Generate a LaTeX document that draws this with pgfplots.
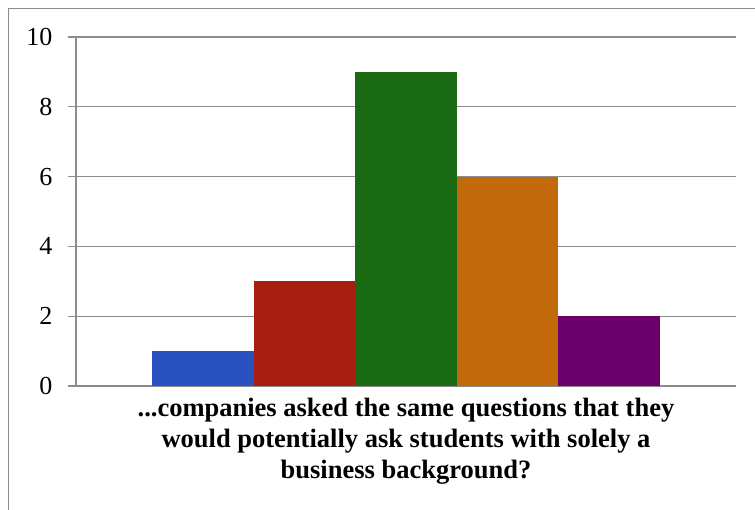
\documentclass[border=0pt]{standalone}
\usepackage{pgfplots}
\pgfplotsset{compat=1.18}
\usepackage{fontspec}
\setmainfont{Liberation Serif}
\definecolor{gridc}{RGB}{140,140,140}
\definecolor{cblue}{RGB}{41,82,192}
\definecolor{cred}{RGB}{168,31,18}
\definecolor{cgreen}{RGB}{26,106,20}
\definecolor{corange}{RGB}{194,105,11}
\definecolor{cpurple}{RGB}{106,0,105}
\begin{document}
\begin{tikzpicture}[x=1pt,y=1pt]
\clip (0,0) rectangle (755,509);
\fill[white] (0,0) rectangle (755,509);
\draw[gridc, line width=1.2pt] (8.5,-50) rectangle (800,500.5);
\begin{axis}[
  at={(76pt,123pt)}, anchor=south west,
  scale only axis, width=660pt, height=349pt,
  ybar, bar width=1, bar shift=0pt,
  xmin=-3.25, xmax=3.25, ymin=0, ymax=10,
  ytick={0,2,4,6,8,10}, xtick=\empty,
  axis x line*=bottom, axis y line*=left,
  axis line style={gridc, line width=1.2pt, -},
  ymajorgrids, grid style={gridc, line width=1.2pt},
  major tick length=8pt, tick align=outside,
  tick style={gridc, line width=1.2pt},
  /pgf/number format/assume math mode=true,
  yticklabel style={font=\fontsize{26}{30}\selectfont, xshift=-12pt},
  xlabel={...companies asked the same questions that they\\would potentially ask students with solely a\\business background?},
  xlabel style={align=center, font=\fontsize{26.5}{31}\selectfont\bfseries, yshift=-1pt},
  clip=false,
]
\addplot[fill=cblue, draw=none] coordinates {(-2,1)};
\addplot[fill=cred, draw=none] coordinates {(-1,3)};
\addplot[fill=cgreen, draw=none] coordinates {(0,9)};
\addplot[fill=corange, draw=none] coordinates {(1,6)};
\addplot[fill=cpurple, draw=none] coordinates {(2,2)};
\end{axis}
\end{tikzpicture}
\end{document}
